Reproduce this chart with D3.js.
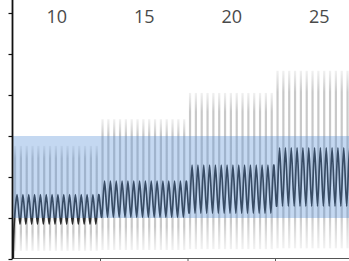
<!DOCTYPE html>
<html lang="en">
<head>
<meta charset="utf-8">
<title>Step response</title>
<script src="https://d3js.org/d3.v7.min.js"></script>
<style>
body {
  margin: 0;
  background: #fff;
}
.cat-label {
  font-family: "Open Sans", Arial, sans-serif;
  font-size: 18px;
  fill: #4a4a4a;
  text-anchor: middle;
}
</style>
</head>
<body>
<div id="my_dataviz"></div>
<script>
// categories along the top and step levels
var categories = ["10", "15", "20", "25"];
var cyclesPerStep = 15;

// grey envelope: lowest and highest value of each step
var greyMin = [0.2, 0.22, 0.24, 0.26];
var greyMax = [2.76, 3.41, 4.05, 4.59];

// dark line: troughs and peaks of each step
var lineMin = [0.85, 1.02, 1.12, 1.29];
var lineMax = [1.57, 1.90, 2.29, 2.71];
var lineStart = 0;

// y ticks and the shaded band
var yTicks = [0, 1, 2, 3, 4, 5, 6];
var bandLow = 1, bandHigh = 3;

var width = 349, height = 261;

var svg = d3.select("#my_dataviz")
  .append("svg")
    .attr("width", width)
    .attr("height", height);

// scales
var y = d3.scaleLinear()
  .domain([0, 6])
  .range([259, 13]);

var x = d3.scaleBand()
  .domain(categories)
  .range([13, 363]);

// time in cycles -> pixels, same extent as the band scale
var t = d3.scaleLinear()
  .domain([0, categories.length * cyclesPerStep])
  .range([13, 363]);

// gradient for the grey spikes (fades at both ends)
var defs = svg.append("defs");
var grad = defs.append("linearGradient")
  .attr("id", "spike")
  .attr("x1", 0).attr("y1", 0).attr("x2", 0).attr("y2", 1);
grad.append("stop").attr("offset", "0%").attr("stop-color", "#cfcfcf").attr("stop-opacity", 0.3);
grad.append("stop").attr("offset", "12%").attr("stop-color", "#c8c8c8").attr("stop-opacity", 1);
grad.append("stop").attr("offset", "82%").attr("stop-color", "#c8c8c8").attr("stop-opacity", 1);
grad.append("stop").attr("offset", "100%").attr("stop-color", "#d4d4d4").attr("stop-opacity", 0.3);

// grey spikes, one per cycle
var spikes = [];
categories.forEach(function(c, s) {
  for (var k = 0; k < cyclesPerStep; k++) {
    spikes.push({t: s * cyclesPerStep + k + 0.35, lo: greyMin[s], hi: greyMax[s]});
  }
});

svg.append("g")
  .selectAll("rect")
  .data(spikes)
  .enter()
  .append("rect")
    .attr("x", function(d) { return t(d.t) - 1.1; })
    .attr("y", function(d) { return y(d.hi); })
    .attr("width", 2.2)
    .attr("height", function(d) { return y(d.lo) - y(d.hi); })
    .attr("fill", "url(#spike)");

// dark oscillating line
var pts = [{t: 0.05, v: lineStart}];
categories.forEach(function(c, s) {
  for (var k = 0; k < cyclesPerStep; k++) {
    var base = s * cyclesPerStep + k;
    pts.push({t: base + 0.2, v: lineMin[s]});
    pts.push({t: base + 0.7, v: lineMax[s]});
  }
});

var line = d3.line()
  .x(function(d) { return t(d.t); })
  .y(function(d) { return y(d.v); })
  .curve(d3.curveCardinal.tension(0.2));

svg.append("path")
  .datum(pts)
  .attr("fill", "none")
  .attr("stroke", "#2b2b2b")
  .attr("stroke-width", 1.7)
  .attr("d", line);

// translucent blue band over everything
svg.append("rect")
  .attr("x", 13)
  .attr("y", y(bandHigh))
  .attr("width", width - 13)
  .attr("height", y(bandLow) - y(bandHigh))
  .attr("fill", "#538dd5")
  .attr("fill-opacity", 0.34);

// bottom axis: line + ticks at category boundaries
var xAxis = svg.append("g")
  .attr("transform", "translate(0,258.5)")
  .call(d3.axisBottom(x).tickSize(0).tickFormat(""));
xAxis.select(".domain").attr("stroke", "#555").attr("stroke-width", 1.2).attr("d", "M12,0H349");
xAxis.selectAll(".tick").remove();
xAxis.selectAll(".bnd")
  .data(categories.slice(1))
  .enter()
  .append("line")
    .attr("x1", function(d) { return x(d); })
    .attr("x2", function(d) { return x(d); })
    .attr("y1", 0)
    .attr("y2", 4)
    .attr("stroke", "#555");

// left axis
var yAxis = svg.append("g")
  .attr("transform", "translate(12.5,0)")
  .call(d3.axisLeft(y).tickValues(yTicks).tickSize(4).tickFormat(""));
yAxis.select(".domain").attr("stroke", "#111").attr("stroke-width", 1.8).attr("d", "M0,0V259");
yAxis.selectAll(".tick line").attr("stroke", "#111").attr("stroke-width", 1.2);

// category labels along the top
svg.selectAll(".cat-label")
  .data(categories)
  .enter()
  .append("text")
    .attr("class", "cat-label")
    .attr("x", function(d) { return x(d) + x.bandwidth() / 2; })
    .attr("y", 23)
    .text(function(d) { return d; });
</script>
</body>
</html>
